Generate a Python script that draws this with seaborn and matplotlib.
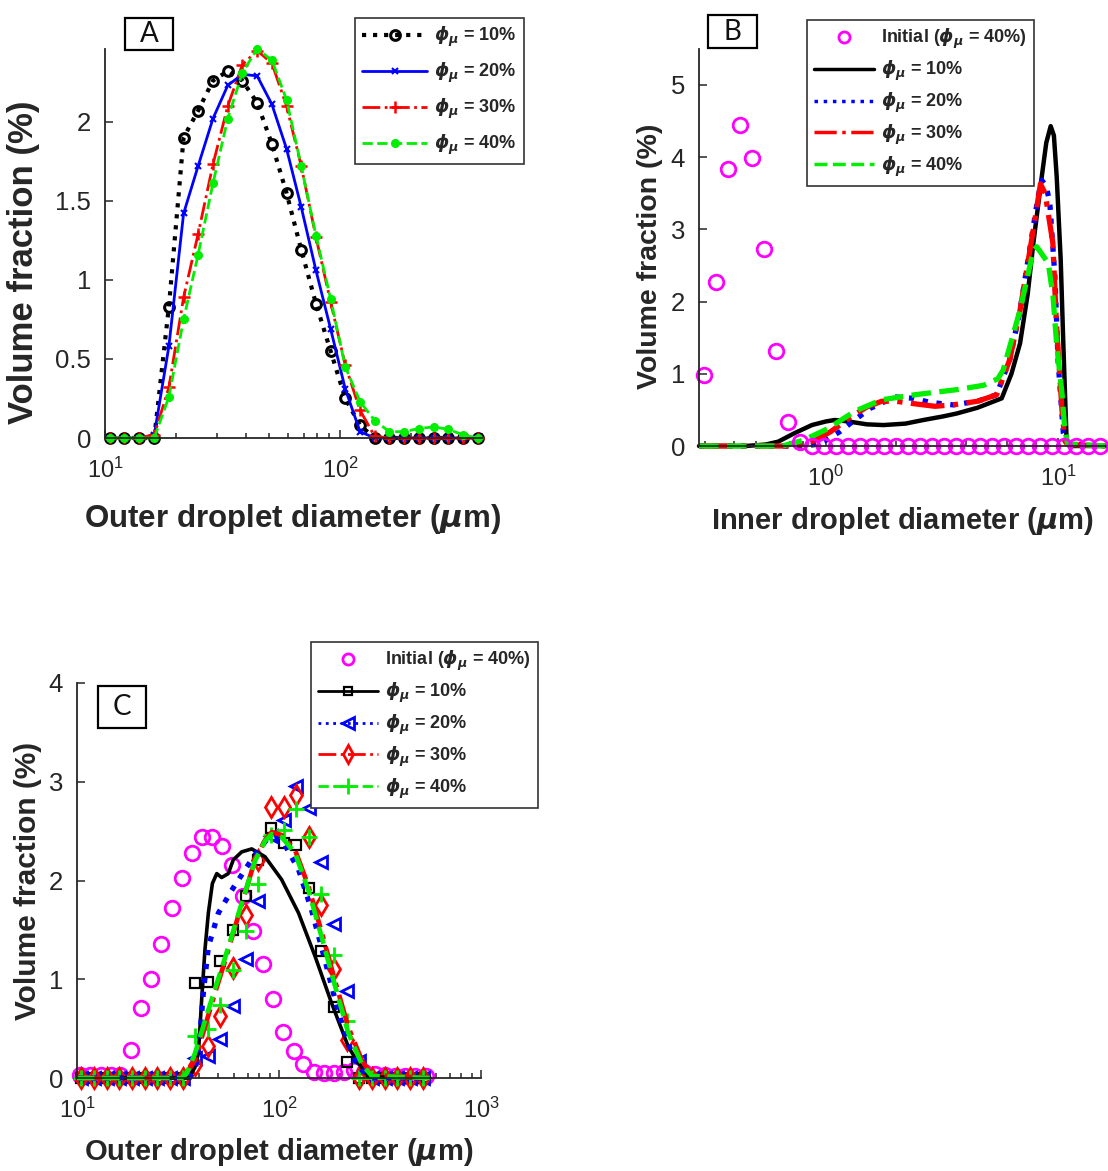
import matplotlib
matplotlib.use('Agg')
import matplotlib.pyplot as plt
import seaborn as sns
from matplotlib.lines import Line2D
from matplotlib.patches import Rectangle
from matplotlib.ticker import LogLocator, NullFormatter

sns.set_style('ticks')
plt.rcParams['font.family'] = ['Liberation Sans', 'DejaVu Sans']
plt.rcParams['mathtext.fontset'] = 'custom'
plt.rcParams['mathtext.it'] = 'DejaVu Sans:italic:bold'
plt.rcParams['mathtext.rm'] = 'DejaVu Sans:bold'
plt.rcParams['mathtext.bf'] = 'DejaVu Sans:bold'

BLACK, BLUE, RED, GREEN, MAG = '#000000', '#0000FF', '#FF0000', '#00EE00', '#FF00FF'
GREY = '#262626'

# ---------------- Panel A data ----------------
a_x = [10.5, 12.1, 14.0, 16.2, 18.7, 21.6, 24.9, 28.8, 33.3, 38.4, 44.4, 51.3, 59.2,
       68.4, 79.0, 91.2, 105.3, 121.7, 140.5, 162.3, 187.5, 216.5, 250.1, 288.9, 333.6, 385.4]
a_10 = [0, 0, 0, 0, 0.83, 1.90, 2.07, 2.26, 2.32, 2.26, 2.12, 1.86, 1.55,
        1.19, 0.85, 0.55, 0.25, 0.08, 0, 0, 0, 0, 0, 0, 0, 0]
a_20 = [0, 0, 0, 0.02, 0.58, 1.42, 1.72, 2.02, 2.23, 2.30, 2.29, 2.11, 1.83,
        1.46, 1.06, 0.69, 0.31, 0.04, 0, 0, 0, 0, 0, 0, 0, 0]
a_30 = [0, 0, 0, 0.02, 0.32, 0.89, 1.29, 1.73, 2.10, 2.36, 2.45, 2.37, 2.10,
        1.72, 1.27, 0.86, 0.46, 0.175, 0.01, 0, 0, 0, 0, 0, 0, 0]
a_40 = [0, 0, 0, 0, 0.26, 0.75, 1.16, 1.61, 2.02, 2.31, 2.46, 2.39, 2.14,
        1.72, 1.28, 0.88, 0.45, 0.23, 0.11, 0.04, 0.04, 0.06, 0.07, 0.055, 0.02, 0]

# ---------------- Panel B data ----------------
b_init_x = [0.298, 0.335, 0.378, 0.426, 0.480, 0.540, 0.609, 0.686, 0.772, 0.870, 0.980,
            1.104, 1.244, 1.401, 1.579, 1.779, 2.004, 2.258, 2.543, 2.865, 3.228, 3.637,
            4.097, 4.616, 5.200, 5.858, 6.600, 7.436, 8.377, 9.437, 10.63, 11.98, 13.50, 15.20]
b_init_y = [0.98, 2.27, 3.84, 4.45, 3.99, 2.73, 1.32, 0.33, 0.06, 0, 0,
            0, 0, 0, 0, 0, 0, 0, 0, 0, 0, 0,
            0, 0, 0, 0, 0, 0, 0, 0, 0, 0, 0, 0]
b10_x = [0.284, 0.45, 0.55, 0.623, 0.735, 0.87, 1.0, 1.09, 1.25, 1.5, 1.77, 2.2, 2.63, 3.2,
         3.66, 4.5, 5.72, 6.3, 6.86, 7.4, 7.83, 8.51, 8.9, 9.3, 9.6, 9.87, 10.27, 10.54,
         10.75, 10.9, 11.2, 16.0]
b10_y = [0, 0, 0.02, 0.06, 0.18, 0.29, 0.34, 0.36, 0.34, 0.30, 0.29, 0.31, 0.36, 0.41,
         0.45, 0.53, 0.66, 1.0, 1.42, 2.1, 2.81, 3.73, 4.2, 4.43, 4.3, 3.73, 2.58, 1.42,
         0.6, 0.04, 0, 0]
b20_x = [0.284, 0.8, 0.9, 1.0, 1.15, 1.33, 1.55, 1.98, 2.4, 2.76, 3.26, 3.54, 4.5, 5.44,
         6.2, 6.86, 7.83, 8.2, 8.51, 8.9, 9.22, 9.7, 10.0, 10.54, 11.0, 16.0]
b20_y = [0, 0, 0.02, 0.08, 0.2, 0.36, 0.52, 0.68, 0.66, 0.61, 0.58, 0.57, 0.62, 0.71,
         1.2, 1.88, 3.04, 3.45, 3.68, 3.6, 3.36, 2.34, 1.19, 0.18, 0.03, 0]
b30_x = [0.284, 0.7, 0.8, 0.9, 1.05, 1.29, 1.5, 1.74, 2.0, 2.34, 2.95, 3.54, 4.5, 5.44,
         6.2, 6.86, 7.83, 8.4, 8.8, 9.5, 9.86, 10.4, 10.7, 11.0, 16.0]
b30_y = [0, 0, 0.02, 0.08, 0.2, 0.41, 0.54, 0.62, 0.62, 0.59, 0.55, 0.57, 0.62, 0.71,
         1.2, 1.88, 3.0, 3.63, 3.5, 2.81, 1.65, 0.5, 0.07, 0.02, 0]
b40_x = [0.284, 0.65, 0.8, 1.02, 1.33, 1.74, 2.42, 3.66, 4.77, 5.5, 5.8, 6.86, 7.83, 8.1,
         9.08, 9.52, 9.86, 10.4, 10.7, 11.0, 16.0]
b40_y = [0, 0, 0.08, 0.24, 0.48, 0.64, 0.71, 0.78, 0.84, 0.93, 1.05, 1.88, 2.71, 2.76,
         2.53, 2.07, 1.42, 0.73, 0.22, 0.03, 0]

# ---------------- Panel C data ----------------
c_init_x = [10.35, 11.6, 13.1, 14.7, 16.4, 18.5, 20.7, 23.3, 26.1, 29.4, 33.0, 37.0, 41.6,
            46.7, 52.4, 58.8, 66.1, 74.2, 83.3, 93.5, 105, 118, 132, 149, 167, 187, 210,
            236, 265, 298, 334, 376, 422, 473, 532]
c_init_y = [0.03, 0.03, 0.03, 0.03, 0.03, 0.28, 0.71, 1.00, 1.36, 1.72, 2.03, 2.28, 2.44,
            2.44, 2.35, 2.16, 1.84, 1.49, 1.15, 0.80, 0.47, 0.27, 0.14, 0.06, 0.05, 0.05,
            0.06, 0.08, 0.06, 0.04, 0.03, 0.02, 0.02, 0.02, 0.02]
c_mk_x = [10.5, 12.1, 14.0, 16.2, 18.7, 21.6, 24.9, 28.8, 33.3, 38.4, 44.4, 51.3, 59.2,
          68.4, 79.0, 91.2, 105.3, 121.7, 140.5, 162.3, 187.5, 216.5, 250.1, 288.9, 333.6,
          385.4, 445.1, 514.1]
c_mk10 = [0, 0, 0, 0, 0, 0, 0, 0, 0, 0.96, 0.97, 1.18, 1.50, 1.84, 2.21, 2.53, 2.38,
          2.36, 1.92, 1.29, 0.72, 0.165, 0, 0, 0, 0, 0, 0]
c_mk20 = [0, 0, 0, 0, 0, 0, 0, 0, 0, 0.20, 0.22, 0.40, 0.73, 1.21, 1.79, 2.45, 2.61,
          2.96, 2.73, 2.19, 1.56, 0.88, 0.17, 0, 0, 0, 0, 0]
c_mk30 = [0, 0, 0, 0, 0, 0, 0, 0, 0, 0.13, 0.32, 0.63, 1.11, 1.65, 2.21, 2.74, 2.74,
          2.87, 2.44, 1.75, 1.10, 0.38, 0, 0, 0, 0, 0, 0]
c_mk40 = [0, 0, 0, 0, 0, 0, 0, 0, 0, 0.43, 0.50, 0.74, 1.09, 1.49, 1.96, 2.46, 2.51,
          2.72, 2.44, 1.86, 1.25, 0.58, 0, 0, 0, 0, 0, 0]
c10_lx = [10, 35.6, 37.0, 38.4, 39.9, 41.4, 43.0, 44.7, 46.8, 49.2, 52.0, 56.1, 59.4,
          65.4, 73.3, 85.3, 103, 125, 151, 182, 220, 247, 277, 560]
c10_ly = [0, 0, 0.05, 0.11, 0.25, 0.79, 1.30, 1.67, 1.97, 2.07, 2.03, 2.07, 2.21, 2.29,
          2.32, 2.24, 2.01, 1.67, 1.23, 0.76, 0.32, 0.15, 0.01, 0]
c20_lx = [10, 36.0, 38.4, 40.2, 42.2, 44.7, 50.1, 58.3, 67.9, 79.0, 88.5, 95.5, 107, 125,
          145, 169, 197, 229, 257, 288, 560]
c20_ly = [0, 0, 0.08, 0.32, 0.86, 1.33, 1.67, 1.90, 2.11, 2.31, 2.43, 2.44, 2.36, 2.11,
          1.70, 1.19, 0.66, 0.25, 0.08, 0, 0]
c30_lx = [10, 33.0, 34.3, 38.4, 43.0, 48.2, 54.1, 60.6, 67.9, 76.1, 85.3, 92.1, 103, 120,
          140, 163, 189, 220, 257, 288, 560]
c30_ly = [0, 0, 0.03, 0.18, 0.52, 0.86, 1.19, 1.53, 1.87, 2.21, 2.41, 2.49, 2.46, 2.31,
          1.94, 1.47, 0.99, 0.52, 0.18, 0.03, 0]
c40_lx = [10, 33.0, 35.0, 38.4, 43.0, 48.2, 54.1, 60.6, 67.9, 76.1, 85.3, 92.1, 103, 120,
          140, 163, 189, 220, 257, 288, 560]
c40_ly = [0, 0, 0.05, 0.25, 0.58, 0.90, 1.22, 1.55, 1.88, 2.20, 2.40, 2.47, 2.44, 2.28,
          1.90, 1.42, 0.94, 0.46, 0.14, 0.02, 0]

labels_phi = [r'$\phi_\mu$ = 10%', r'$\phi_\mu$ = 20%', r'$\phi_\mu$ = 30%', r'$\phi_\mu$ = 40%']
label_init = r'Initial ($\phi_\mu$ = 40%)'
xlabel_outer = r'Outer droplet diameter ($\mu$m)'
xlabel_inner = r'Inner droplet diameter ($\mu$m)'
ylabel_vf = 'Volume fraction (%)'

W, H = 1108, 1171
fig = plt.figure(figsize=(W / 100, H / 100), dpi=100)


def px_axes(l, t, r, b):
    ax = fig.add_axes([l / W, 1 - b / H, (r - l) / W, (b - t) / H])
    ax._px = (l, t, r, b)
    return ax


def draw(ax, x, y, **kw):
    sns.lineplot(x=x, y=y, ax=ax, sort=False, estimator=None, legend=False,
                 clip_on=False, **kw)


def style(ax):
    sns.despine(ax=ax)
    for s in ('left', 'bottom'):
        ax.spines[s].set_linewidth(1.3)
        ax.spines[s].set_color(GREY)
    ax.set_xscale('log')
    ax.xaxis.set_minor_locator(LogLocator(base=10, subs=range(2, 10)))
    ax.xaxis.set_minor_formatter(NullFormatter())
    ax.tick_params(which='both', direction='in', width=1.1, colors=GREY, labelcolor=GREY)
    ax.tick_params(which='major', length=6)
    ax.tick_params(which='minor', length=3.5)
    ax.tick_params(axis='x', labelsize=17, pad=14)
    ax.tick_params(axis='y', labelsize=18.5, pad=10)


def labels(ax, xl, yl, xsize, ysize, xl_y, yl_x, yl_y):
    l, t, r, b = ax._px
    ax.set_xlabel(xl, fontsize=xsize, fontweight='bold', color=GREY, va='center')
    ax.set_ylabel(yl, fontsize=ysize, fontweight='bold', color=GREY, va='center')
    ax.xaxis.set_label_coords(0.5, (b - xl_y) / (b - t))
    ax.yaxis.set_label_coords((yl_x - l) / (r - l), (b - yl_y) / (b - t))


def panel_box(xc, yc, w, h, letter):
    fig.add_artist(Rectangle(((xc - w / 2) / W, 1 - (yc + h / 2) / H), w / W, h / H,
                             transform=fig.transFigure, fc='white', ec='black', lw=1.6))
    fig.text(xc / W, 1 - yc / H, letter, ha='center', va='center', fontsize=20,
             family='Lato', color='#111111')


def legend(ax, handles, labs, x, y, hl, ls):
    leg = ax.legend(handles, labs, loc='upper left', bbox_to_anchor=(x / W, 1 - y / H),
                    bbox_transform=fig.transFigure, borderaxespad=0, frameon=True,
                    fancybox=False, framealpha=1, edgecolor='#333333',
                    prop={'weight': 'bold', 'size': 13}, handlelength=hl,
                    handletextpad=0.4, labelspacing=ls, borderpad=0.4)
    leg.get_frame().set_linewidth(1.2)


# ---------------- Panel A ----------------
axA = px_axes(105, 49, 481.5, 438)
draw(axA, a_x, a_10, color=BLACK, linestyle=':', linewidth=3, marker='o', markersize=7,
     markerfacecolor='none', markeredgecolor=BLACK, markeredgewidth=2.2)
draw(axA, a_x, a_20, color=BLUE, linestyle='-', linewidth=2, marker='x', markersize=5,
     markeredgecolor=BLUE, markeredgewidth=1.5)
draw(axA, a_x, a_30, color=RED, linestyle='-.', linewidth=2, marker='+', markersize=8,
     markeredgecolor=RED, markeredgewidth=1.8)
draw(axA, a_x, a_40, color=GREEN, linestyle='--', linewidth=2, marker='o', markersize=5.5,
     markerfacecolor=GREEN, markeredgecolor=GREEN, markeredgewidth=1)
axA.set_xlim(10, 400)
axA.set_ylim(0, 2.46)
style(axA)
axA.set_yticks([0, 0.5, 1, 1.5, 2])
axA.set_yticklabels(['0', '0.5', '1', '1.5', '2'])
labels(axA, xlabel_outer, ylabel_vf, 22.5, 25, 519, 24, 262)
hA = [Line2D([], [], color=BLACK, ls=':', lw=3, marker='o', ms=7, mfc='none', mew=2.2),
      Line2D([], [], color=BLUE, ls='-', lw=2, marker='x', ms=5, mew=1.5),
      Line2D([], [], color=RED, ls='-.', lw=2, marker='+', ms=8, mew=1.8),
      Line2D([], [], color=GREEN, ls='--', lw=2, marker='o', ms=5.5, mfc=GREEN, mec=GREEN)]
legend(axA, hA, labels_phi, 355, 18, 3.6, 0.65)
panel_box(149, 34, 48, 32, 'A')

# ---------------- Panel B ----------------
axB = px_axes(699, 48.9, 1105.4, 446)
draw(axB, b10_x, b10_y, color=BLACK, linestyle='-', linewidth=3.2)
draw(axB, b20_x, b20_y, color=BLUE, linestyle=':', linewidth=3.8)
draw(axB, b30_x, b30_y, color=RED, linestyle='-.', linewidth=3.8)
draw(axB, b40_x, b40_y, color=GREEN, linestyle='--', linewidth=3.8)
draw(axB, b_init_x, b_init_y, color=MAG, linestyle='none', marker='o', markersize=10.5,
     markerfacecolor='none', markeredgecolor=MAG, markeredgewidth=2)
axB.set_xlim(0.284, 16.0)
axB.set_ylim(0, 5.5)
style(axB)
axB.set_yticks([0, 1, 2, 3, 4, 5])
labels(axB, xlabel_inner, ylabel_vf, 21, 20.5, 521, 650, 256)
hB = [Line2D([], [], color=MAG, ls='none', marker='o', ms=8, mfc='none', mew=2),
      Line2D([], [], color=BLACK, ls='-', lw=2.5),
      Line2D([], [], color=BLUE, ls=':', lw=2.5),
      Line2D([], [], color=RED, ls='-.', lw=2.5),
      Line2D([], [], color=GREEN, ls='--', lw=2.5)]
legend(axB, hB, [label_init] + labels_phi, 807, 20, 3.3, 0.42)
panel_box(732.5, 31.5, 49, 33, 'B')

# ---------------- Panel C ----------------
axC = px_axes(77, 683, 481, 1078)
draw(axC, c_init_x, c_init_y, color=MAG, linestyle='none', marker='o', markersize=10.5,
     markerfacecolor='none', markeredgecolor=MAG, markeredgewidth=2)
draw(axC, c_mk_x, c_mk10, color=BLACK, linestyle='none', marker='s', markersize=6.5,
     markerfacecolor='none', markeredgecolor=BLACK, markeredgewidth=1.6)
draw(axC, c_mk_x, c_mk20, color=BLUE, linestyle='none', marker='<', markersize=9,
     markerfacecolor='none', markeredgecolor=BLUE, markeredgewidth=2)
draw(axC, c_mk_x, c_mk30, color=RED, linestyle='none', marker='d', markersize=10,
     markerfacecolor='none', markeredgecolor=RED, markeredgewidth=2)
draw(axC, c_mk_x, c_mk40, color=GREEN, linestyle='none', marker='+', markersize=12,
     markeredgecolor=GREEN, markeredgewidth=2)
draw(axC, c10_lx, c10_ly, color=BLACK, linestyle='-', linewidth=2.6)
draw(axC, c20_lx, c20_ly, color=BLUE, linestyle=':', linewidth=3.8)
draw(axC, c30_lx, c30_ly, color=RED, linestyle='-.', linewidth=3.4)
draw(axC, c40_lx, c40_ly, color=GREEN, linestyle='--', linewidth=3.4)
axC.set_xlim(10, 1000)
axC.set_ylim(0, 4)
style(axC)
axC.set_yticks([0, 1, 2, 3, 4])
labels(axC, xlabel_outer, ylabel_vf, 21, 21.5, 1152, 28, 881)
hC = [Line2D([], [], color=MAG, ls='none', marker='o', ms=8, mfc='none', mew=2),
      Line2D([], [], color=BLACK, ls='-', lw=2, marker='s', ms=6, mfc='none', mew=1.6),
      Line2D([], [], color=BLUE, ls=':', lw=2, marker='<', ms=8, mfc='none', mew=2),
      Line2D([], [], color=RED, ls='-.', lw=2, marker='d', ms=9, mfc='none', mew=2),
      Line2D([], [], color=GREEN, ls='--', lw=2, marker='+', ms=11, mew=2)]
legend(axC, hC, [label_init] + labels_phi, 311, 642, 3.3, 0.42)
panel_box(122, 707, 48, 42, 'C')

fig.savefig('out.png', dpi=100)
